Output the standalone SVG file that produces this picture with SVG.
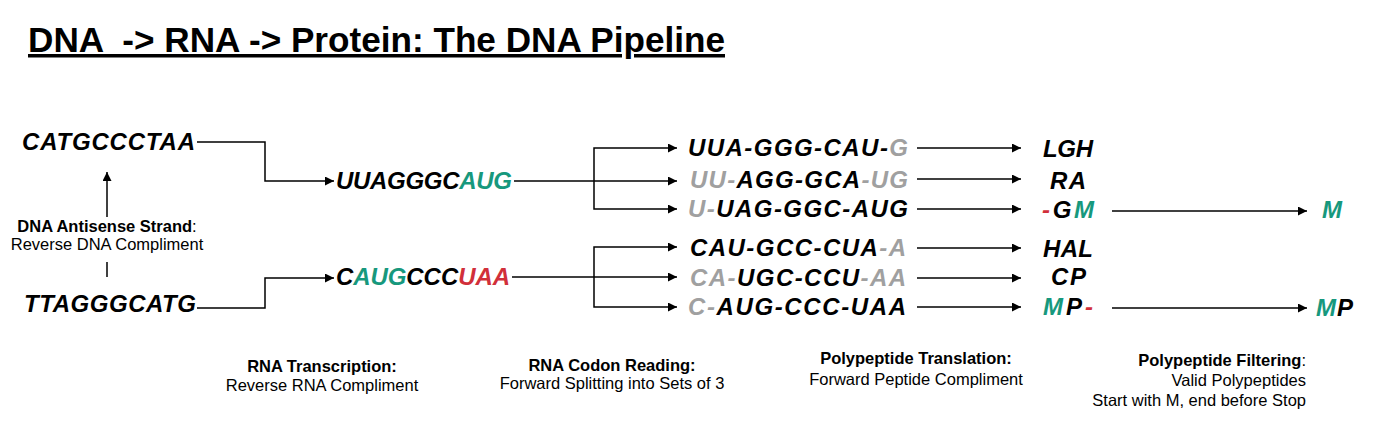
<svg xmlns="http://www.w3.org/2000/svg" width="1373" height="431" viewBox="0 0 1373 431">
<style>
.seq{font-family:"Liberation Sans",Arial,sans-serif;font-weight:bold;font-style:italic;font-size:24px;fill:#000}
.g{fill:#17987d}
.r{fill:#d12f3a}
.x{fill:#a0a0a0}
.lb{font-family:"Liberation Sans",Arial,sans-serif;font-size:16.5px;fill:#000}
.b{font-weight:bold}
.n{font-weight:normal}
.title{font-family:"Liberation Sans",Arial,sans-serif;font-weight:bold;font-size:35px;text-decoration:underline}
.c{fill:none;stroke:#000;stroke-width:1.5}
</style>
<defs>
<marker id="ah" viewBox="0 0 10 10" refX="10" refY="5" markerWidth="10" markerHeight="9" markerUnits="userSpaceOnUse" orient="auto">
<path d="M0,0 L10,5 L0,10 Z" fill="#000"/>
</marker>
</defs>
<rect width="1373" height="431" fill="#fff"/>
<text id="title" class="title" x="28" y="52" textLength="697" lengthAdjust="spacingAndGlyphs">DNA &#160;-&gt; RNA -&gt; Protein: The DNA Pipeline</text>

<g id="connectors">
<path class="c" d="M197,142 H265 V181 H334" marker-end="url(#ah)"/>
<path class="c" d="M197,308 H265 V278 H334" marker-end="url(#ah)"/>
<path class="c" d="M107,217 V172" marker-end="url(#ah)"/>
<path class="c" d="M107,262 V277"/>
<path class="c" d="M514,181 H677" marker-end="url(#ah)"/>
<path class="c" d="M594,181 V148 H677" marker-end="url(#ah)"/>
<path class="c" d="M594,181 V209 H677" marker-end="url(#ah)"/>
<path class="c" d="M512,277 H677" marker-end="url(#ah)"/>
<path class="c" d="M594,277 V247 H677" marker-end="url(#ah)"/>
<path class="c" d="M594,277 V307 H677" marker-end="url(#ah)"/>
<path class="c" d="M917,148 H1021" marker-end="url(#ah)"/>
<path class="c" d="M917,179 H1021" marker-end="url(#ah)"/>
<path class="c" d="M917,209 H1021" marker-end="url(#ah)"/>
<path class="c" d="M917,248 H1021" marker-end="url(#ah)"/>
<path class="c" d="M917,278 H1021" marker-end="url(#ah)"/>
<path class="c" d="M917,307 H1021" marker-end="url(#ah)"/>
<path class="c" d="M1112,211 H1307" marker-end="url(#ah)"/>
<path class="c" d="M1112,308 H1307" marker-end="url(#ah)"/>
</g>

<g id="dna-sense"><text class="seq" x="22" y="150" textLength="173">CATGCCCTAA</text></g>
<g id="dna-antisense"><text class="seq" x="24" y="312" textLength="172">TTAGGGCATG</text></g>
<g id="antisense-label">
<text class="lb b" x="107" y="232" text-anchor="middle">DNA Antisense Strand<tspan class="n">:</tspan></text>
<text class="lb" x="107" y="250" text-anchor="middle">Reverse DNA Compliment</text>
</g>

<g id="rna-1"><text class="seq" x="336" y="189" textLength="176">UUAGGGC<tspan class="g">AUG</tspan></text></g>
<g id="rna-2"><text class="seq" x="336" y="285" textLength="174">C<tspan class="g">AUG</tspan>CCC<tspan class="r">UAA</tspan></text></g>

<g id="codon-1"><text class="seq" x="688" y="156" textLength="220">UUA-GGG-CAU-<tspan class="x">G</tspan></text></g>
<g id="codon-2"><text class="seq" x="690" y="188" textLength="218"><tspan class="x">UU-</tspan>AGG-GCA<tspan class="x">-UG</tspan></text></g>
<g id="codon-3"><text class="seq" x="688" y="217" textLength="220"><tspan class="x">U-</tspan>UAG-GGC-AUG</text></g>
<g id="codon-4"><text class="seq" x="690" y="256" textLength="216">CAU-GCC-CUA<tspan class="x">-A</tspan></text></g>
<g id="codon-5"><text class="seq" x="690" y="286" textLength="216"><tspan class="x">CA-</tspan>UGC-CCU<tspan class="x">-AA</tspan></text></g>
<g id="codon-6"><text class="seq" x="688" y="315" textLength="218"><tspan class="x">C-</tspan>AUG-CCC-UAA</text></g>

<g id="pep-1"><text class="seq" x="1043" y="157" textLength="50">LGH</text></g>
<g id="pep-2"><text class="seq" x="1050" y="189" textLength="36">RA</text></g>
<g id="pep-3"><text class="seq" x="1042" y="218" textLength="52"><tspan class="r">-</tspan>G<tspan class="g">M</tspan></text></g>
<g id="pep-4"><text class="seq" x="1043" y="257" textLength="50">HAL</text></g>
<g id="pep-5"><text class="seq" x="1051" y="285" textLength="35">CP</text></g>
<g id="pep-6"><text class="seq" x="1043" y="315" textLength="50"><tspan class="g">M</tspan>P<tspan class="r">-</tspan></text></g>

<g id="valid-1"><text class="seq g" x="1322" y="218">M</text></g>
<g id="valid-2"><text class="seq" x="1316" y="316" textLength="37"><tspan class="g">M</tspan>P</text></g>

<g id="label-transcription">
<text class="lb b" x="322" y="372" text-anchor="middle">RNA Transcription:</text>
<text class="lb" x="322" y="391" text-anchor="middle">Reverse RNA Compliment</text>
</g>
<g id="label-codon">
<text class="lb b" x="612" y="371" text-anchor="middle">RNA Codon Reading:</text>
<text class="lb" x="612" y="389" text-anchor="middle">Forward Splitting into Sets of 3</text>
</g>
<g id="label-translation">
<text class="lb b" x="916" y="364" text-anchor="middle">Polypeptide Translation:</text>
<text class="lb" x="916" y="385" text-anchor="middle">Forward Peptide Compliment</text>
</g>
<g id="label-filtering">
<text class="lb b" x="1306" y="366" text-anchor="end">Polypeptide Filtering<tspan class="n">:</tspan></text>
<text class="lb" x="1306" y="386" text-anchor="end">Valid Polypeptides</text>
<text class="lb" x="1306" y="406" text-anchor="end">Start with M, end before Stop</text>
</g>
</svg>
